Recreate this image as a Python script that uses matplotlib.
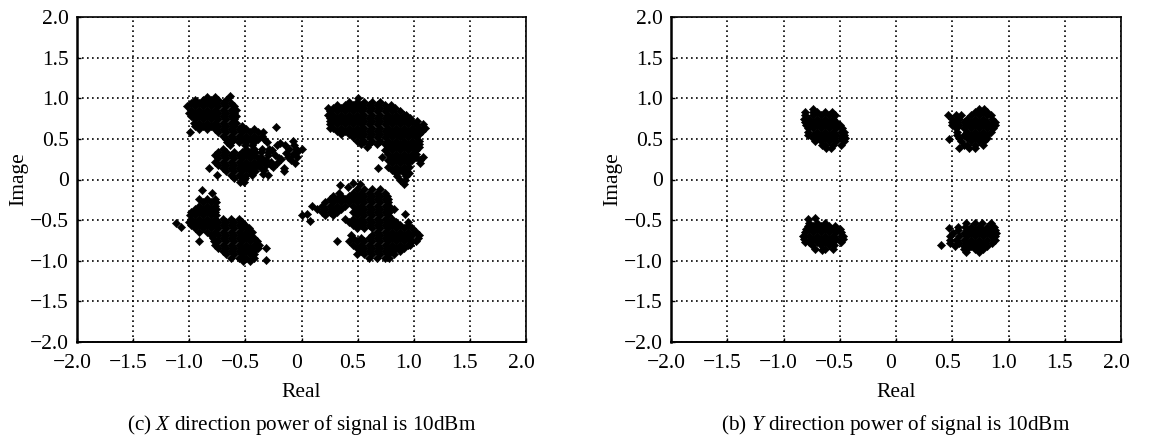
import matplotlib
matplotlib.use("Agg")
import matplotlib.pyplot as plt
from matplotlib.transforms import ScaledTranslation

plt.rcParams['font.family'] = ['Liberation Serif', 'DejaVu Serif']
plt.rcParams['mathtext.fontset'] = 'custom'
plt.rcParams['mathtext.it'] = 'Liberation Serif:italic'
plt.rcParams['mathtext.rm'] = 'Liberation Serif'

ticks = [-2.0, -1.5, -1.0, -0.5, 0, 0.5, 1.0, 1.5, 2.0]
tick_labels = ['\u22122.0', '\u22121.5', '\u22121.0', '\u22120.5', '0', '0.5', '1.0', '1.5', '2.0']

# each cluster: {imag value: [real values]}
left_upper_left = {
    1.03: [-0.64],
    1.02: [-0.84, -0.77],
    0.98: [-0.95, -0.88, -0.81, -0.74, -0.67],
    0.94: [-0.98, -0.91, -0.84, -0.77, -0.70, -0.63],
    0.90: [-1.02, -0.95, -0.88, -0.81, -0.74, -0.67, -0.60],
    0.86: [-0.98, -0.91, -0.84, -0.77, -0.70, -0.63, -0.58],
    0.82: [-1.00, -0.95, -0.88, -0.81, -0.74, -0.67, -0.60],
    0.78: [-0.98, -0.91, -0.84, -0.77, -0.70, -0.63, -0.58],
    0.74: [-0.95, -0.88, -0.81, -0.74, -0.67, -0.60],
    0.70: [-0.96, -0.91, -0.84, -0.77, -0.70, -0.63, -0.58],
    0.66: [-0.95, -0.88, -0.81, -0.74, -0.67, -0.60, -0.53],
    0.65: [-0.23],
    0.62: [-0.91, -0.84, -0.77, -0.70, -0.63, -0.56, -0.49, -0.42],
    0.58: [-0.99, -0.74, -0.67, -0.60, -0.53, -0.46, -0.39, -0.34],
    0.54: [-0.70, -0.63, -0.56, -0.49, -0.42, -0.35],
    0.50: [-0.67, -0.60, -0.53, -0.46, -0.39, -0.33],
    0.46: [-0.66, -0.63, -0.56, -0.49, -0.42, -0.31],
    0.42: [-0.64, -0.50, -0.44],
    0.38: [-0.70, -0.49, -0.42],
    0.34: [-0.74, -0.67, -0.60, -0.53, -0.46, -0.41],
    0.30: [-0.77, -0.70, -0.63, -0.56, -0.49, -0.42],
    0.26: [-0.74, -0.67, -0.60, -0.53, -0.46, -0.39],
    0.22: [-0.77, -0.70, -0.63, -0.56, -0.49, -0.42, -0.37],
    0.18: [-0.74, -0.67, -0.60, -0.53, -0.46, -0.39],
    0.14: [-0.82, -0.70, -0.63, -0.56, -0.49, -0.42],
    0.10: [-0.67, -0.60, -0.53, -0.46, -0.41],
    0.06: [-0.75, -0.63, -0.56, -0.49, -0.44],
    0.02: [-0.60, -0.53, -0.50],
    -0.03: [-0.55, -0.51],
}
left_sparse = {
    0.47: [-0.08], 0.45: [-0.19], 0.42: [-0.15, -0.07, -0.22],
    0.38: [-0.35, -0.29, -0.11], 0.37: [-0.05, 0.00], 0.36: [-0.26], 0.35: [-0.03],
    0.34: [-0.36, -0.30], 0.33: [-0.14], 0.32: [-0.08], 0.30: [-0.30, -0.24],
    0.28: [-0.36, -0.12, -0.04], 0.26: [-0.20], 0.25: [-0.18], 0.24: [-0.32, -0.09],
    0.22: [-0.33, -0.27], 0.20: [-0.22, -0.06], 0.18: [-0.32, -0.27], 0.15: [-0.25],
    0.14: [-0.36, -0.16], 0.12: [-0.33], 0.10: [-0.16], 0.07: [-0.34], 0.05: [-0.30],
}
left_upper_right = {
    1.00: [0.50],
    0.96: [0.42, 0.49, 0.56, 0.63, 0.70],
    0.92: [0.32, 0.39, 0.46, 0.53, 0.60, 0.67, 0.74, 0.80],
    0.88: [0.24, 0.28, 0.35, 0.42, 0.49, 0.56, 0.63, 0.70, 0.77, 0.83],
    0.84: [0.25, 0.32, 0.39, 0.46, 0.53, 0.60, 0.67, 0.74, 0.81, 0.88],
    0.80: [0.24, 0.28, 0.35, 0.42, 0.49, 0.56, 0.63, 0.70, 0.77, 0.84, 0.91, 0.93],
    0.76: [0.25, 0.32, 0.39, 0.46, 0.53, 0.60, 0.67, 0.74, 0.81, 0.88, 0.95, 0.97],
    0.72: [0.25, 0.28, 0.35, 0.42, 0.49, 0.56, 0.63, 0.70, 0.77, 0.84, 0.91, 0.98, 1.03],
    0.68: [0.25, 0.32, 0.39, 0.46, 0.53, 0.60, 0.67, 0.74, 0.81, 0.88, 0.95, 1.02, 1.08],
    0.64: [0.25, 0.28, 0.35, 0.42, 0.49, 0.56, 0.63, 0.70, 0.77, 0.84, 0.91, 0.98, 1.05, 1.10],
    0.60: [0.32, 0.39, 0.46, 0.53, 0.60, 0.67, 0.74, 0.81, 0.88, 0.95, 1.02, 1.07],
    0.56: [0.35, 0.42, 0.49, 0.56, 0.63, 0.70, 0.77, 0.84, 0.91, 0.98, 1.05],
    0.52: [0.46, 0.53, 0.60, 0.67, 0.74, 0.81, 0.88, 0.95, 1.02],
    0.48: [0.49, 0.56, 0.63, 0.70, 0.77, 0.84, 0.91, 0.98, 1.05],
    0.44: [0.53, 0.60, 0.67, 0.74, 0.81, 0.88, 0.95, 1.02, 1.05],
    0.40: [0.58, 0.77, 0.84, 0.91, 0.98, 1.05],
    0.36: [0.74, 0.81, 0.88, 0.95, 1.02],
    0.32: [0.77, 0.84, 0.91, 0.98, 1.02],
    0.28: [0.72, 0.81, 0.88, 0.95, 1.02, 1.08],
    0.24: [0.77, 0.84, 0.91, 0.98, 1.06],
    0.20: [0.81, 0.88, 0.95, 1.06],
    0.16: [0.77, 0.84, 0.91, 0.96],
    0.14: [0.68],
    0.12: [0.81, 0.88, 0.92],
    0.08: [0.84, 0.91, 0.96],
    0.04: [0.85, 0.93],
    0.00: [0.88, 0.92],
    -0.05: [0.91],
}
left_lower_right = {
    -0.04: [0.46], -0.05: [0.52], -0.07: [0.34], -0.09: [0.41],
    -0.12: [0.49, 0.56, 0.63, 0.70],
    -0.16: [0.33, 0.46, 0.53, 0.60, 0.67, 0.74],
    -0.20: [0.28, 0.35, 0.42, 0.49, 0.56, 0.63, 0.70, 0.76],
    -0.24: [0.25, 0.32, 0.39, 0.46, 0.53, 0.60, 0.67, 0.74, 0.77],
    -0.28: [0.21, 0.28, 0.35, 0.42, 0.49, 0.56, 0.63, 0.70, 0.77],
    -0.32: [0.18, 0.25, 0.32, 0.39, 0.46, 0.53, 0.60, 0.67, 0.74, 0.78],
    -0.33: [0.09],
    -0.36: [0.14, 0.21, 0.28, 0.35, 0.49, 0.56, 0.63, 0.70, 0.77, 0.82],
    -0.40: [0.18, 0.25, 0.32, 0.46, 0.53, 0.60, 0.67, 0.74, 0.78],
    -0.42: [0.92],
    -0.43: [0.05],
    -0.44: [0.00, 0.21, 0.28, 0.49, 0.56, 0.63, 0.70, 0.77],
    -0.48: [0.39, 0.46, 0.53, 0.60, 0.67, 0.74, 0.81],
    -0.51: [0.08],
    -0.52: [0.42, 0.49, 0.56, 0.63, 0.70, 0.77, 0.84, 0.95],
    -0.56: [0.46, 0.53, 0.60, 0.67, 0.74, 0.81, 0.88, 0.95],
    -0.60: [0.49, 0.56, 0.63, 0.70, 0.77, 0.84, 0.91, 0.98],
    -0.64: [0.67, 0.74, 0.81, 0.88, 0.95, 1.02],
    -0.68: [0.44, 0.63, 0.70, 0.77, 0.84, 0.91, 0.98, 1.05],
    -0.72: [0.46, 0.53, 0.60, 0.67, 0.74, 0.81, 0.88, 0.95, 1.04],
    -0.76: [0.32, 0.42, 0.49, 0.56, 0.63, 0.70, 0.77, 0.84, 0.91, 0.98, 1.02],
    -0.80: [0.46, 0.53, 0.60, 0.67, 0.74, 0.81, 0.88, 0.95, 0.97],
    -0.84: [0.49, 0.56, 0.63, 0.70, 0.77, 0.84, 0.91],
    -0.88: [0.53, 0.60, 0.67, 0.74, 0.81, 0.88],
    -0.92: [0.49, 0.56, 0.63, 0.70, 0.77, 0.82],
    -0.96: [0.60, 0.67, 0.74, 0.78],
}
left_lower_left = {
    -0.125: [-0.89], -0.17: [-0.80],
    -0.24: [-0.91, -0.84, -0.77],
    -0.28: [-0.88, -0.81, -0.76],
    -0.32: [-0.91, -0.84, -0.77],
    -0.36: [-0.95, -0.88, -0.81, -0.76],
    -0.40: [-0.98, -0.91, -0.84, -0.77],
    -0.44: [-0.99, -0.95, -0.88, -0.81, -0.76],
    -0.48: [-0.98, -0.91, -0.84, -0.77, -0.70, -0.63, -0.56],
    -0.52: [-1.00, -0.95, -0.88, -0.81, -0.74, -0.67, -0.60, -0.53],
    -0.53: [-1.12],
    -0.56: [-0.98, -0.91, -0.84, -0.77, -0.70, -0.63, -0.56, -0.50],
    -0.59: [-1.07],
    -0.60: [-0.95, -0.88, -0.81, -0.74, -0.67, -0.60, -0.53, -0.47],
    -0.64: [-0.91, -0.84, -0.77, -0.70, -0.63, -0.56, -0.49, -0.44],
    -0.68: [-0.81, -0.74, -0.67, -0.60, -0.53, -0.46],
    -0.72: [-0.79, -0.70, -0.63, -0.56, -0.49, -0.42],
    -0.76: [-0.91, -0.78, -0.74, -0.67, -0.60, -0.53, -0.46, -0.40],
    -0.80: [-0.77, -0.70, -0.63, -0.56, -0.49, -0.42, -0.38],
    -0.84: [-0.74, -0.67, -0.60, -0.53, -0.46, -0.39, -0.32],
    -0.88: [-0.70, -0.63, -0.56, -0.49, -0.42],
    -0.92: [-0.67, -0.60, -0.53, -0.46, -0.42],
    -0.96: [-0.63, -0.56, -0.49, -0.42],
    -0.99: [-0.32],
    -1.00: [-0.52, -0.46],
}

right_upper_left = {
    0.87: [-0.74],
    0.83: [-0.81, -0.74, -0.70, -0.63, -0.57],
    0.79: [-0.81, -0.74, -0.67, -0.60, -0.54],
    0.75: [-0.82, -0.77, -0.70, -0.63, -0.56],
    0.71: [-0.81, -0.74, -0.67, -0.60, -0.53],
    0.67: [-0.80, -0.77, -0.70, -0.63, -0.56, -0.50],
    0.63: [-0.78, -0.74, -0.67, -0.60, -0.53, -0.48],
    0.59: [-0.78, -0.70, -0.63, -0.56, -0.49, -0.46],
    0.55: [-0.78, -0.74, -0.67, -0.60, -0.53, -0.46],
    0.51: [-0.74, -0.70, -0.63, -0.56, -0.49, -0.45],
    0.47: [-0.72, -0.67, -0.60, -0.53, -0.46],
    0.43: [-0.66, -0.63, -0.56, -0.49],
    0.39: [-0.62, -0.58],
}
right_upper_right = {
    0.87: [0.74, 0.78],
    0.83: [0.70, 0.77, 0.81],
    0.80: [0.46],
    0.79: [0.53, 0.58, 0.67, 0.74, 0.81, 0.84],
    0.75: [0.50, 0.56, 0.63, 0.70, 0.77, 0.85],
    0.71: [0.50, 0.60, 0.53, 0.67, 0.74, 0.81, 0.88],
    0.67: [0.50, 0.56, 0.63, 0.70, 0.77, 0.84, 0.88],
    0.63: [0.53, 0.60, 0.67, 0.74, 0.81, 0.86],
    0.59: [0.54, 0.63, 0.70, 0.77, 0.84],
    0.55: [0.54, 0.60, 0.67, 0.74, 0.81],
    0.51: [0.56, 0.63, 0.70, 0.77, 0.81],
    0.50: [0.47],
    0.47: [0.58, 0.67, 0.74, 0.78],
    0.43: [0.60, 0.63, 0.70, 0.77],
    0.39: [0.56, 0.65, 0.70],
}
right_lower_left = {
    -0.47: [-0.72], -0.49: [-0.78],
    -0.53: [-0.77, -0.70, -0.63],
    -0.57: [-0.78, -0.74, -0.67, -0.60, -0.54],
    -0.61: [-0.80, -0.77, -0.70, -0.63, -0.56, -0.50],
    -0.65: [-0.81, -0.74, -0.67, -0.60, -0.53, -0.49],
    -0.69: [-0.83, -0.77, -0.70, -0.63, -0.56, -0.49, -0.47],
    -0.73: [-0.82, -0.74, -0.67, -0.60, -0.53, -0.47],
    -0.77: [-0.81, -0.77, -0.70, -0.63, -0.56, -0.49],
    -0.81: [-0.75, -0.67, -0.60, -0.55],
    -0.85: [-0.72, -0.63, -0.56],
    -0.87: [-0.66],
}
right_lower_right = {
    -0.54: [0.62, 0.70, 0.76, 0.84],
    -0.58: [0.55, 0.61, 0.67, 0.74, 0.81, 0.87],
    -0.60: [0.47],
    -0.62: [0.55, 0.63, 0.70, 0.77, 0.84, 0.88],
    -0.66: [0.51, 0.60, 0.67, 0.74, 0.81, 0.89],
    -0.70: [0.48, 0.56, 0.63, 0.70, 0.77, 0.84, 0.88],
    -0.74: [0.48, 0.53, 0.60, 0.67, 0.74, 0.81, 0.88],
    -0.78: [0.48, 0.56, 0.63, 0.70, 0.77, 0.85],
    -0.81: [0.40],
    -0.82: [0.52, 0.60, 0.67, 0.74, 0.81],
    -0.86: [0.60, 0.63, 0.70, 0.77],
    -0.89: [0.62, 0.74],
}

left_clusters = [left_upper_left, left_sparse, left_upper_right, left_lower_right, left_lower_left]
right_clusters = [right_upper_left, right_upper_right, right_lower_left, right_lower_right]


def draw_panel(ax, clusters, caption):
    for rows in clusters:
        for im, re_vals in rows.items():
            ax.scatter(re_vals, [im] * len(re_vals), marker='D', s=17.5, c='black',
                       linewidths=0.4, zorder=3)
    ax.set_xlim(-2, 2)
    ax.set_ylim(-2, 2)
    ax.set_xticks(ticks)
    ax.set_xticklabels(tick_labels)
    ax.set_yticks(ticks)
    ax.set_yticklabels(tick_labels)
    ax.tick_params(direction='in', length=3, width=1, labelsize=15.5)
    ax.tick_params(axis='x', pad=9)
    ax.tick_params(axis='y', pad=6)
    # labels sit a little left of their ticks in the original
    shift = ScaledTranslation(-5 / 100, 0, fig.dpi_scale_trans)
    for lab in ax.get_xticklabels():
        lab.set_transform(lab.get_transform() + shift)
    ax.grid(True, color='black', ls=(0, (1, 2)), lw=1.2)
    ax.set_axisbelow(True)
    for side in ax.spines:
        ax.spines[side].set_linewidth(1.2)
    ax.spines['left'].set_linewidth(1.8)
    ax.spines['bottom'].set_linewidth(1.4)
    ax.set_xlabel('Real', fontsize=15.5, labelpad=7)
    ax.set_ylabel('Image', fontsize=15.5, labelpad=1)
    ax.text(0.5, -0.256, caption, transform=ax.transAxes, ha='center', va='center', fontsize=15.3)


W, H = 1149, 437
fig = plt.figure(figsize=(W / 100, H / 100), dpi=100)

ax1 = fig.add_axes([77 / W, 1 - 342 / H, 449 / W, 325 / H])
draw_panel(ax1, left_clusters, r'(c) $\mathit{X}$ direction power of signal is 10dBm')

ax2 = fig.add_axes([671 / W, 1 - 342 / H, 450 / W, 325 / H])
draw_panel(ax2, right_clusters, r'(b) $\mathit{Y}$ direction power of signal is 10dBm')

fig.savefig('out.png', dpi=100)
